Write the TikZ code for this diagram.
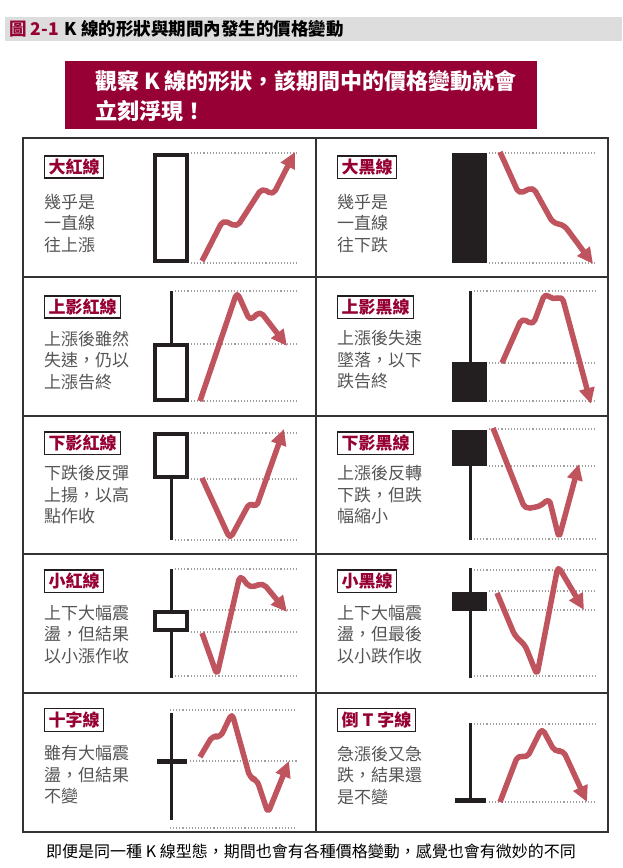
\documentclass[tikz,border=0pt]{standalone}
\usepackage{fontspec}
\setmainfont{Noto Sans CJK TC}
\usetikzlibrary{arrows.meta}
\definecolor{crimson}{RGB}{150,0,52}
\definecolor{trend}{RGB}{192,84,94}
\definecolor{desc}{RGB}{85,85,85}
\definecolor{band}{RGB}{221,221,221}
\definecolor{gridc}{RGB}{51,51,51}
\definecolor{ink}{RGB}{35,31,32}
\begin{document}
\begin{tikzpicture}[x=1pt,y=-1pt,
  tag/.style={draw=ink, line width=1.3pt, text=crimson, font=\fontsize{17}{20}\selectfont\bfseries, inner xsep=4pt, inner ysep=3pt, anchor=west},
  descr/.style={anchor=north west, align=left, inner sep=0pt, text=desc, font=\fontsize{17}{21.5}\selectfont},
  hollow/.style={draw=ink, line width=3.5pt, fill=white},
  solidbody/.style={fill=ink},
  wick/.style={draw=ink, line width=3pt},
  crossbar/.style={draw=ink, line width=5pt},
  level/.style={draw=gray!75, line width=1.1pt, dash pattern=on 1.1pt off 2pt},
  trendline/.style={draw=trend, line width=5.5pt, line join=round, rounded corners=5pt, -{Triangle[length=16pt,width=15pt]}}
]
\useasboundingbox (0,0) rectangle (622,868);

% title band
\fill[band] (5,17) rectangle (622,41);
\node[anchor=west, inner sep=0pt, font=\fontsize{17.5}{20}\selectfont\bfseries] (title) at (9,29)
  {{\color{crimson}圖 2-1}\hspace{6pt}K 線的形狀與期間內發生的價格變動};

% banner
\fill[crimson] (65,61) rectangle (537,129);
\node[anchor=north west, align=left, inner sep=0pt, text=white, font=\fontsize{22}{30}\selectfont\bfseries] (banner) at (95,70)
  {觀察 K 線的形狀，該期間中的價格變動就會\\立刻浮現！};

% table
\draw[gridc, line width=1.8pt] (23,138) rectangle (608,832);
\draw[gridc, line width=1.8pt] (316,138) -- (316,832);
\foreach \yy in {277,416,554,693} \draw[gridc, line width=1.8pt] (23,\yy) -- (608,\yy);

% ---------- row 1 ----------
\node[tag] (t1) at (44,167) {大紅線};
\node[descr] (d1) at (44,194) {幾乎是\\一直線\\往上漲};
\draw[level] (191,153) -- (297,153);
\draw[level] (191,263) -- (297,263);
\draw[hollow] (155,155) rectangle (187,261);
\draw[trendline] (202,261) -- (223,220) -- (237,227) -- (262,188) -- (273,195) -- (295,152);

\node[tag] (t2) at (337,167) {大黑線};
\node[descr] (d2) at (337,194) {幾乎是\\一直線\\往下跌};
\draw[level] (489,153) -- (595,153);
\draw[level] (489,263) -- (595,263);
\fill[solidbody] (452,153) rectangle (487,263);
\draw[trendline] (500,152) -- (519,194) -- (533,187) -- (553,223) -- (564,225) -- (593,264);

% ---------- row 2 ----------
\node[tag] (t3) at (44,307) {上影紅線};
\node[descr] (d3) at (44,330.5) {上漲後雖然\\失速，仍以\\上漲告終};
\draw[level] (175,291) -- (297,291);
\draw[level] (191,344) -- (297,344);
\draw[level] (191,401) -- (297,401);
\draw[wick] (171,291) -- (171,344);
\draw[hollow] (155,345) rectangle (187,400);
\draw[trendline] (200,401) -- (237,292) -- (250,321) -- (260,311) -- (287,346);

\node[tag] (t4) at (337,307) {上影黑線};
\node[descr] (d4) at (337,330.5) {上漲後失速\\墜落，以下\\跌告終};
\draw[level] (474,291) -- (595,291);
\draw[level] (489,363) -- (595,363);
\draw[level] (489,401) -- (595,401);
\draw[wick] (470,291) -- (470,363);
\fill[solidbody] (452,362) rectangle (487,402);
\draw[trendline] (502,363) -- (522,318) -- (533,325) -- (545,293) -- (553,300) -- (562,296) -- (591,404);

% ---------- row 3 ----------
\node[tag] (t5) at (44,443) {下影紅線};
\node[descr] (d5) at (44,465.5) {下跌後反彈\\上揚，以高\\點作收};
\draw[level] (191,433) -- (297,433);
\draw[level] (191,479) -- (297,479);
\draw[level] (175,540) -- (297,540);
\draw[wick] (171,477) -- (171,540);
\draw[hollow] (155,434) rectangle (187,477);
\draw[trendline] (202,478) -- (230,539) -- (250,502) -- (256,508) -- (284,429);

\node[tag] (t6) at (337,443) {下影黑線};
\node[descr] (d6) at (337,465.5) {上漲後反轉\\下跌，但跌\\幅縮小};
\draw[level] (489,429) -- (595,429);
\draw[level] (489,466) -- (595,466);
\draw[level] (474,539) -- (595,539);
\draw[wick] (470,465) -- (470,540);
\fill[solidbody] (452,430) rectangle (487,466);
\draw[trendline] (493,428) -- (525,509) -- (541,506) -- (549,498) -- (559,538) -- (579,464);

% ---------- row 4 ----------
\node[tag] (t7) at (44,581) {小紅線};
\node[descr] (d7) at (44,605) {上下大幅震\\盪，但結果\\以小漲作收};
\draw[level] (175,569) -- (297,569);
\draw[level] (191,610) -- (297,610);
\draw[level] (191,632) -- (297,632);
\draw[level] (175,676) -- (297,676);
\draw[wick] (171,569) -- (171,678);
\draw[hollow] (155,612) rectangle (187,630);
\draw[trendline] (202,633) -- (217,675) -- (240,575) -- (250,588) -- (263,583) -- (287,612);

\node[tag] (t8) at (337,581) {小黑線};
\node[descr] (d8) at (337,605) {上下大幅震\\盪，但最後\\以小跌作收};
\draw[level] (474,570) -- (595,570);
\draw[level] (489,591) -- (595,591);
\draw[level] (489,610) -- (595,610);
\draw[level] (474,676) -- (595,676);
\draw[wick] (470,568) -- (470,678);
\fill[solidbody] (452,592) rectangle (487,611);
\draw[trendline] (497,593) -- (515,636) -- (525,645) -- (537,675) -- (558,566) -- (584,610);

% ---------- row 5 ----------
\node[tag] (t9) at (44,720) {十字線};
\node[descr] (d9) at (44,745.5) {雖有大幅震\\盪，但結果\\不變};
\draw[level] (170,710) -- (297,710);
\draw[level] (190,761) -- (297,761);
\draw[level] (170,828) -- (297,828);
\draw[wick] (171,713) -- (171,820);
\draw[crossbar] (157,761) -- (187,761);
\draw[trendline] (200,757) -- (213,735) -- (220,738) -- (232,713) -- (250,778) -- (257,780) -- (268,813) -- (289,761);

\node[tag] (t10) at (337,720) {倒 T 字線};
\node[descr] (d10) at (337,745.5) {急漲後又急\\跌，結果還\\是不變};
\draw[level] (474,724) -- (595,724);
\draw[level] (489,802) -- (595,802);
\draw[wick] (470,723) -- (470,800);
\draw[crossbar] (455,800) -- (486,800);
\draw[trendline] (500,802) -- (518,755) -- (527,758) -- (542,728) -- (555,752) -- (563,750) -- (587,802);

% footer
\node[font=\fontsize{16}{18}\selectfont, inner sep=0pt] (foot) at (311,851)
  {即便是同一種 K 線型態，期間也會有各種價格變動，感覺也會有微妙的不同};
\end{tikzpicture}
\end{document}
